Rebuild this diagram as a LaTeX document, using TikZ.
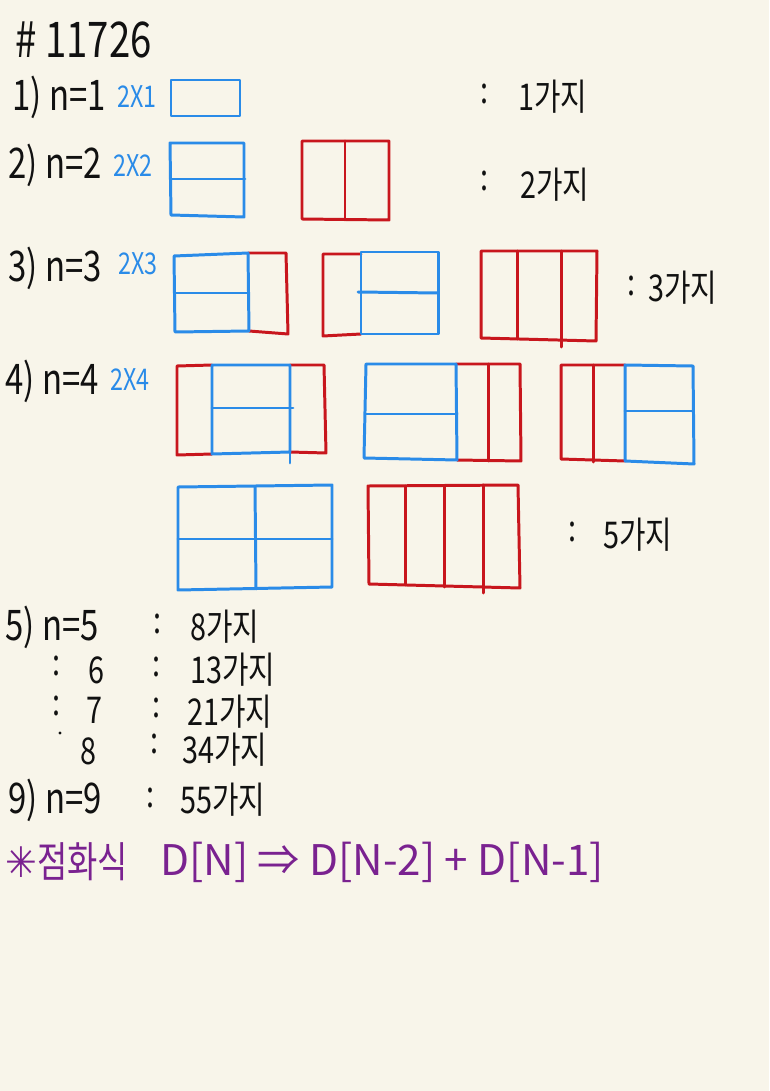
\documentclass[tikz,border=0pt]{standalone}
\usepackage{fontspec}
\setmainfont[FakeStretch=0.78]{Noto Sans CJK KR}
\newfontfamily\widefont{Noto Sans CJK KR}
\newfontfamily\symfont[FakeStretch=0.9]{DejaVu Sans}
\usetikzlibrary{positioning}

\definecolor{paper}{HTML}{F8F5EA}
\definecolor{tileblue}{HTML}{2A8BE8}
\definecolor{tilered}{HTML}{C8161D}
\definecolor{inkpurple}{HTML}{7A2290}
\definecolor{ink}{HTML}{111111}

\begin{document}
\begin{tikzpicture}[
    x=0.02cm, y=-0.02cm,
    hand/.style={
        text=ink, inner sep=0pt, anchor=west,
        font=\fontsize{24}{28}\selectfont
    },
    count/.style={
        text=ink, inner sep=0pt, anchor=west,
        font=\fontsize{21}{25}\selectfont
    },
    sizelabel/.style={
        text=tileblue, inner sep=0pt, anchor=west,
        font=\fontsize{17}{20}\selectfont
    },
    formula/.style={
        text=inkpurple, inner sep=0pt, anchor=west,
        font=\fontsize{24}{28}\selectfont
    },
    bluetile/.style={
        draw=tileblue, line width=1.7pt, line join=round, line cap=round
    },
    redtile/.style={
        draw=tilered, line width=1.7pt, line join=round, line cap=round
    }
]

    % =========================================================================
    % PAPER
    % =========================================================================
    \fill [paper] (0,0) rectangle (769,1091);
    \useasboundingbox (0,0) rectangle (769,1091);

    % =========================================================================
    % TITLE AND ROW LABELS
    % =========================================================================
    \node [hand, font=\fontsize{28}{32}\selectfont] (title) at (15,40) {\# 11726};

    \node [hand] (row_one) at (12,97) {1) n=1};
    \node [sizelabel] (size_one) at (117,97) {2X1};
    \node [hand] (row_two) at (8,165) {2) n=2};
    \node [sizelabel] (size_two) at (113,166) {2X2};
    \node [hand] (row_three) at (8,268) {3) n=3};
    \node [sizelabel] (size_three) at (118,264) {2X3};
    \node [hand] (row_four) at (5,381) {4) n=4};
    \node [sizelabel] (size_four) at (110,380) {2X4};

    % =========================================================================
    % N = 1, N = 2
    % =========================================================================
    \draw [bluetile] (171,80) rectangle (240,116);

    \draw [bluetile] (170,143) -- (244,143) -- (244,217) -- (171,215) -- cycle;
    \draw [bluetile] (170,179) -- (245,179);
    \draw [redtile] (302,141) -- (389,141) -- (389,220) -- (302,219) -- cycle;
    \draw [redtile] (345,141) -- (345,220);

    \node [count] (colon_one) at (480,94) {:};
    \node [count] (count_one) at (518,97) {1가지};
    \node [count] (colon_two) at (480,181) {:};
    \node [count] (count_two) at (520,185) {2가지};

    % =========================================================================
    % N = 3
    % =========================================================================
    \draw [redtile] (248,253) -- (286,253) -- (288,334) -- (249,331);
    \draw [bluetile] (174,256) -- (248,253) -- (249,331) -- (175,332) -- cycle;
    \draw [bluetile] (175,293) -- (248,293);

    \draw [redtile] (361,254) -- (323,254) -- (323,336) -- (361,334);
    \draw [bluetile] (361,252) -- (438,252) -- (438,334) -- (361,334) -- cycle;
    \draw [bluetile] (358,292) -- (438,293);

    \draw [redtile] (481,251) -- (597,251) -- (596,341) -- (481,338) -- cycle;
    \draw [redtile] (517,251) -- (517,339);
    \draw [redtile] (561,251) -- (561,347);

    \node [count] (colon_three) at (627,286) {:};
    \node [count] (count_three) at (648,288) {3가지};

    % =========================================================================
    % N = 4
    % =========================================================================
    \draw [redtile] (212,365) -- (177,366) -- (177,455) -- (212,454);
    \draw [redtile] (290,365) -- (324,365) -- (326,453) -- (290,452);
    \draw [bluetile] (212,365) -- (290,365) -- (290,452) -- (212,454) -- cycle;
    \draw [bluetile] (212,408) -- (293,408);
    \draw [bluetile] (290,452) -- (290,463);

    \draw [redtile] (456,364) -- (520,364) -- (521,461) -- (457,460);
    \draw [redtile] (488,364) -- (488,461);
    \draw [bluetile] (366,364) -- (456,364) -- (457,460) -- (364,458) -- cycle;
    \draw [bluetile] (366,414) -- (457,414);

    \draw [redtile] (625,365) -- (561,365) -- (561,459) -- (625,461);
    \draw [redtile] (593,365) -- (593,462);
    \draw [bluetile] (625,365) -- (693,366) -- (694,464) -- (625,461) -- cycle;
    \draw [bluetile] (625,411) -- (693,411);

    \draw [bluetile] (178,487) -- (332,485) -- (332,587) -- (178,590) -- cycle;
    \draw [bluetile] (178,539) -- (332,539);
    \draw [bluetile] (255,487) -- (256,589);

    \draw [redtile] (368,486) -- (518,485) -- (520,588) -- (369,584) -- cycle;
    \draw [redtile] (405,486) -- (405,585);
    \draw [redtile] (444,486) -- (444,587);
    \draw [redtile] (483,485) -- (483,593);

    \node [count] (colon_four) at (568,532) {:};
    \node [count] (count_four) at (603,535) {5가지};

    % =========================================================================
    % N = 5 .. 9
    % =========================================================================
    \node [hand] (row_five) at (5,627) {5) n=5};
    \node [count] (colon_five) at (153,624) {:};
    \node [count] (count_five) at (190,627) {8가지};

    \node [count] (dots_six) at (52,666) {:};
    \node [count] (row_six) at (88,670) {6};
    \node [count] (colon_six) at (152,667) {:};
    \node [count] (count_six) at (190,670) {13가지};

    \node [count] (dots_seven) at (52,706) {:};
    \node [count] (row_seven) at (86,710) {7};
    \node [count] (colon_seven) at (152,708) {:};
    \node [count] (count_seven) at (187,712) {21가지};

    \fill [ink] (60,733) circle (1.6);
    \node [count] (row_eight) at (80,751) {8};
    \node [count] (colon_eight) at (150,744) {:};
    \node [count] (count_eight) at (182,750) {34가지};

    \node [hand] (row_nine) at (8,800) {9) n=9};
    \node [count] (colon_nine) at (146,798) {:};
    \node [count] (count_nine) at (180,800) {55가지};

    % =========================================================================
    % RECURRENCE
    % =========================================================================
    \node [formula] (rec_title) at (5,862) {{\symfont ✳}점화식};
    \node [formula, font=\fontsize{24}{28}\widefont] (rec_body) at (160,862) {D[N] ⇒ D[N-2] + D[N-1]};

\end{tikzpicture}
\end{document}
